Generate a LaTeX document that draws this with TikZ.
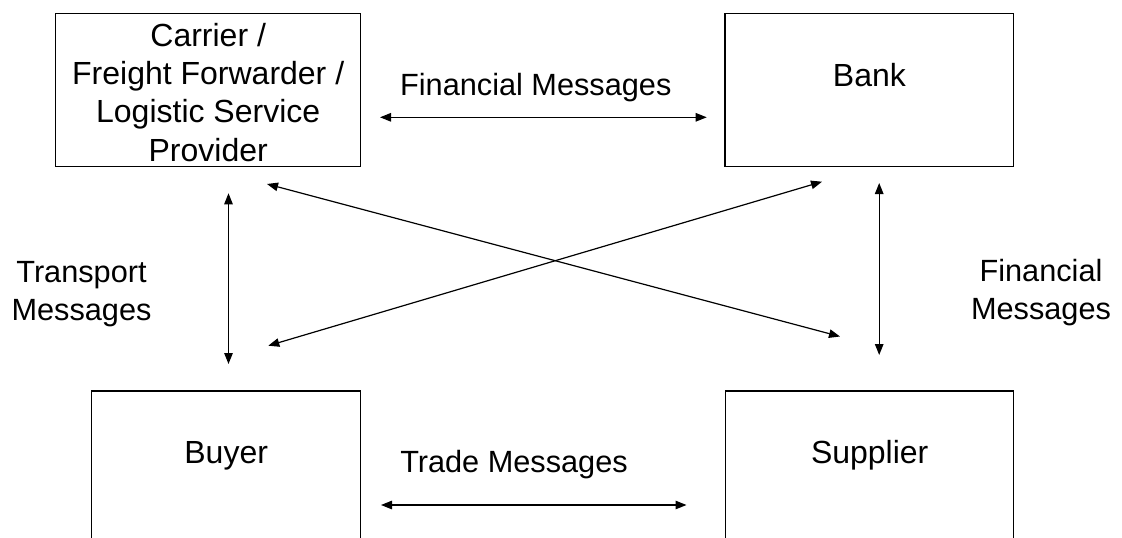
\documentclass[tikz,border=0pt]{standalone}
\usepackage{fontspec}
\setmainfont{Liberation Sans}
\usetikzlibrary{arrows.meta}
\tikzset{
  box/.style={draw, line width=1.3pt, inner sep=0pt, outer sep=0pt},
  boxtxt/.style={anchor=base, inner sep=0pt, font=\fontsize{32}{38.1}\selectfont},
  lbl/.style={anchor=base, inner sep=0pt, font=\fontsize{30.7}{37.8}\selectfont},
  msg/.style={line width=1.2pt, {Triangle[length=11pt,width=8.5pt]}-{Triangle[length=11pt,width=8.5pt]}},
}
\begin{document}
\begin{tikzpicture}[x=1pt,y=-1pt]
\useasboundingbox (0,0) rectangle (1122,538);
\fill[white] (0,0) rectangle (1122,538);
\clip (0,0) rectangle (1122,538);

% boxes
\node[box, minimum width=305pt, minimum height=153.4pt] (carrier) at (208.2,90) {};
\node[box, minimum width=288.7pt, minimum height=153.4pt] (bank) at (869.4,90) {};
\node[box, minimum width=269pt, minimum height=309pt] (buyer) at (226.2,545.5) {};
\node[box, minimum width=288pt, minimum height=309pt] (supplier) at (869.5,545.5) {};

% box texts
\node[boxtxt] (carriertxt) at (208.2,46.7) {\begin{tabular}[t]{@{}c@{}}Carrier /\\Freight Forwarder /\\Logistic Service\\Provider\end{tabular}};
\node[boxtxt] (banktxt) at (869.4,86) {Bank};
\node[boxtxt] (buyertxt) at (226.2,463.3) {Buyer};
\node[boxtxt] (suppliertxt) at (869.7,463.3) {Supplier};

% labels
\node[lbl] (finmsg) at (535.8,95) {Financial Messages};
\node[lbl] (trademsg) at (514,472.7) {Trade Messages};
\node[lbl] (transmsg) at (81.5,282.7) {\begin{tabular}[t]{@{}c@{}}Transport\\Messages\end{tabular}};
\node[lbl] (finmsg2) at (1041,281.7) {\begin{tabular}[t]{@{}c@{}}Financial\\Messages\end{tabular}};

% connector end points
\coordinate (finL) at (380,117.3);
\coordinate (finR) at (706.7,117.3);
\coordinate (trL) at (381,505);
\coordinate (trR) at (686.5,505);
\coordinate (tpT) at (228.5,193.3);
\coordinate (tpB) at (228.5,364);
\coordinate (bsT) at (879.2,183);
\coordinate (bsB) at (879.2,355);
\coordinate (csA) at (267,184);
\coordinate (csB) at (840,336.5);
\coordinate (bbA) at (822,181.7);
\coordinate (bbB) at (268.3,345.7);

% connectors
\draw[msg] (finL) -- (finR);
\draw[msg] (trL) -- (trR);
\draw[msg] (tpT) -- (tpB);
\draw[msg] (bsT) -- (bsB);
\draw[msg] (csA) -- (csB);
\draw[msg] (bbA) -- (bbB);
\end{tikzpicture}
\end{document}
